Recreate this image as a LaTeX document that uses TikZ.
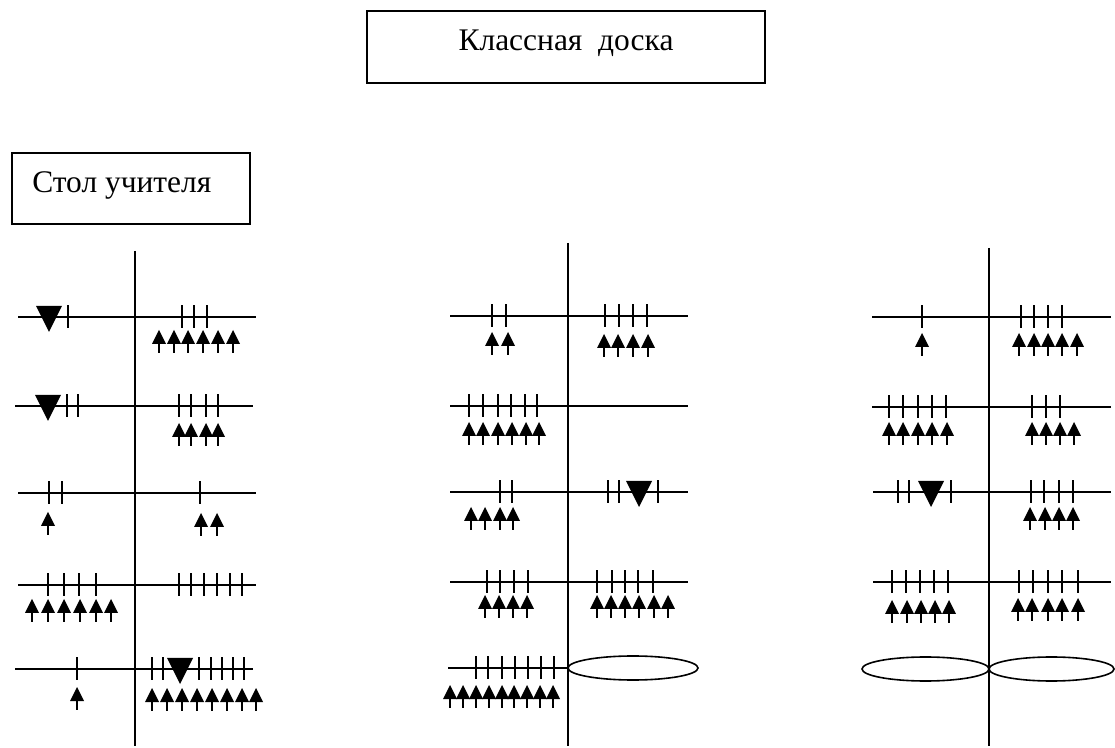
\documentclass[tikz,border=0pt]{standalone}
\usepackage{fontspec}
\setmainfont{Liberation Serif}
\newcommand\Tk[2]{\foreach \xx in {#2} {\draw[tick] (\xx,#1-11.5) -- (\xx,#1+11.5);}}
\newcommand\Ar[2]{\foreach \xx in {#2} {\fill (\xx-7,#1+14) -- (\xx,#1) -- (\xx+7,#1+14) -- cycle; \draw[stem] (\xx,#1+10) -- (\xx,#1+23);}}
\newcommand\Tri[2]{\fill (#1-13,#2-11) -- (#1+13,#2-11) -- (#1,#2+15) -- cycle;}
\begin{document}
\begin{tikzpicture}[x=0.75pt,y=-0.75pt,line cap=butt,
  desk/.style={line width=1.4pt},
  wall/.style={line width=1.3pt},
  tick/.style={line width=1.9pt},
  stem/.style={line width=1.9pt},
  boxline/.style={line width=1.5pt},
  lbl/.style={font=\fontsize{23.6}{28}\selectfont, inner sep=0pt},
  seat/.style={line width=1.2pt}]
\useasboundingbox (0,0) rectangle (1115,748);
% boxes
\draw[boxline] (367,11) rectangle (765,83);
\node[lbl, anchor=base] (board) at (566,51) {Классная\ \ доска};
\draw[boxline] (12,153) rectangle (250,224);
\node[lbl, anchor=base west] (table) at (32,193) {Стол учителя};
% ===== left column
\draw[wall] (135,251) -- (135,746);
\draw[desk] (18,317) -- (256,317);
\draw[desk] (15,406) -- (253,406);
\draw[desk] (18,493) -- (256,493);
\draw[desk] (18,585) -- (256,585);
\draw[desk] (15,669) -- (253,669);
% row1
\Tri{49}{317} \Tk{317}{68} \Tk{317}{182,194,207}
\Ar{330}{159,174,188,203,218,233}
% row2
\Tri{48}{406} \Tk{406}{67,78} \Tk{406}{179,191,206,218}
\Ar{423}{179,191,206,218}
% row3
\Tk{493}{49,62} \Ar{512}{48}
\Tk{493}{200} \Ar{513}{201,217}
% row4
\Tk{585}{48,64,79,96} \Ar{599}{32,48,64,80,96,111}
\Tk{585}{179,191,204,217,230,242}
% row5
\Tk{669}{77} \Ar{687}{77}
\Tk{669}{152,163} \Tri{180}{669} \Tk{669}{199,211,222,233,244}
\Ar{688}{152,167,182,197,212,227,242,256}
% ===== middle column
\draw[wall] (568,243) -- (568,746);
\draw[desk] (450,316) -- (688,316);
\draw[desk] (450,406) -- (688,406);
\draw[desk] (450,492) -- (688,492);
\draw[desk] (450,582) -- (688,582);
\draw[desk] (448,668) -- (568,668);
% row1
\Tk{316}{492,506} \Ar{332}{492,508}
\Tk{316}{605,619,633,647} \Ar{334}{604,618,633,648}
% row2
\Tk{406}{469,483,498,511,525,537} \Ar{422}{469,483,498,512,526,539}
% row3
\Tk{492}{500,512} \Ar{507}{471,485,500,513}
\Tk{492}{608,619} \Tri{639}{492} \Tk{492}{658}
% row4
\Tk{582}{487,500,514,528} \Ar{595}{485,499,513,527}
\Tk{582}{597,612,625,638,653} \Ar{595}{597,611,625,639,654,668}
% row5
\Tk{668}{476,488,502,515,528,541,554}
\Ar{685}{450,463,476,489,502,514,527,540,553}
\draw[seat] (633,668) ellipse [x radius=65, y radius=12];
% ===== right column
\draw[wall] (989,248) -- (989,746);
\draw[desk] (872,317) -- (1111,317);
\draw[desk] (872,407) -- (1111,407);
\draw[desk] (873,492) -- (1111,492);
\draw[desk] (873,582) -- (1111,582);
% row1
\Tk{317}{922} \Ar{333}{922}
\Tk{317}{1021,1034,1048,1062} \Ar{333}{1019,1034,1048,1062,1077}
% row2
\Tk{407}{889,903,918,932,946} \Ar{422}{889,903,918,932,947}
\Tk{407}{1032,1046,1060} \Ar{422}{1032,1046,1060,1074}
% row3
\Tk{492}{898,909} \Tri{931}{492} \Tk{492}{951}
\Tk{492}{1031,1044,1059,1073} \Ar{507}{1030,1045,1059,1073}
% row4
\Tk{582}{892,906,920,934,948} \Ar{600}{892,907,921,935,949}
\Tk{582}{1019,1033,1048,1062,1078} \Ar{598}{1018,1032,1048,1062,1078}
% row5
\draw[seat] (925.5,669) ellipse [x radius=63.5, y radius=12];
\draw[seat] (1051.5,669) ellipse [x radius=62.5, y radius=12];
\end{tikzpicture}
\end{document}
